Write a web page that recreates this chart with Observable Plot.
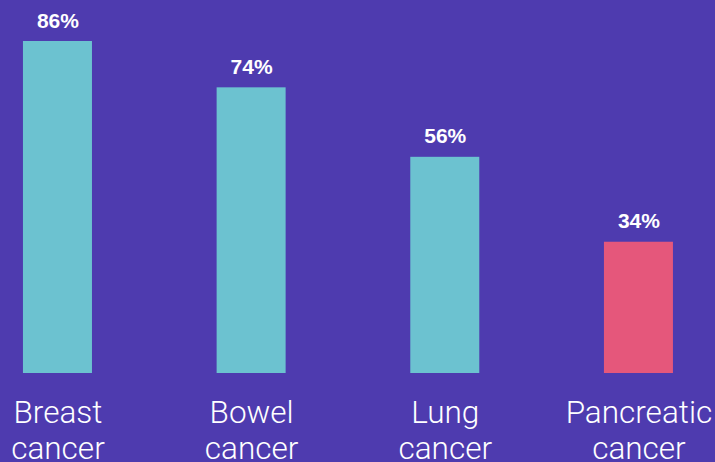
<!DOCTYPE html>
<html>
<head>
<meta charset="utf-8">
<script src="https://cdn.jsdelivr.net/npm/d3@7"></script>
<script src="https://cdn.jsdelivr.net/npm/@observablehq/plot@0.6"></script>
<style>
  html, body { margin: 0; padding: 0; background: #4E3BAF; overflow: hidden; }
  #chart { width: 715px; height: 462px; }
</style>
</head>
<body>
<div id="chart"></div>
<script>
const categories = ["Breast\ncancer", "Bowel\ncancer", "Lung\ncancer", "Pancreatic\ncancer"];
const values = [86, 74, 56, 34];
const valueLabels = ["86%", "74%", "56%", "34%"];
const highlight = [false, false, false, true];

const data = categories.map((c, i) => ({cat: c, value: values[i], label: valueLabels[i], hi: highlight[i]}));

const chart = Plot.plot({
  width: 715,
  height: 462,
  margin: 0,
  style: {background: "#4E3BAF", overflow: "visible"},
  x: {domain: categories, range: [-39.4, 735.3], paddingInner: 0.6437, paddingOuter: 0.322, round: false, axis: null},
  y: {domain: [0, 86], range: [373, 41], axis: null},
  marks: [
    Plot.barY(data, {x: "cat", y: "value", fill: d => d.hi ? "#E5577B" : "#6CC2D0"}),
    Plot.text(data, {x: "cat", y: "value", text: "label", lineAnchor: "bottom", dy: -14,
      fill: "white", fontSize: 21, fontWeight: "bold", fontFamily: "Liberation Sans, Arial, sans-serif"}),
    Plot.text(data, {x: "cat", y: () => 0, text: "cat", lineAnchor: "top", dy: 24, lineHeight: 1.15,
      fill: "white", fontSize: 31.5, fontWeight: 300, fontFamily: "Roboto, sans-serif"})
  ]
});
document.getElementById("chart").appendChild(chart);
</script>
</body>
</html>
